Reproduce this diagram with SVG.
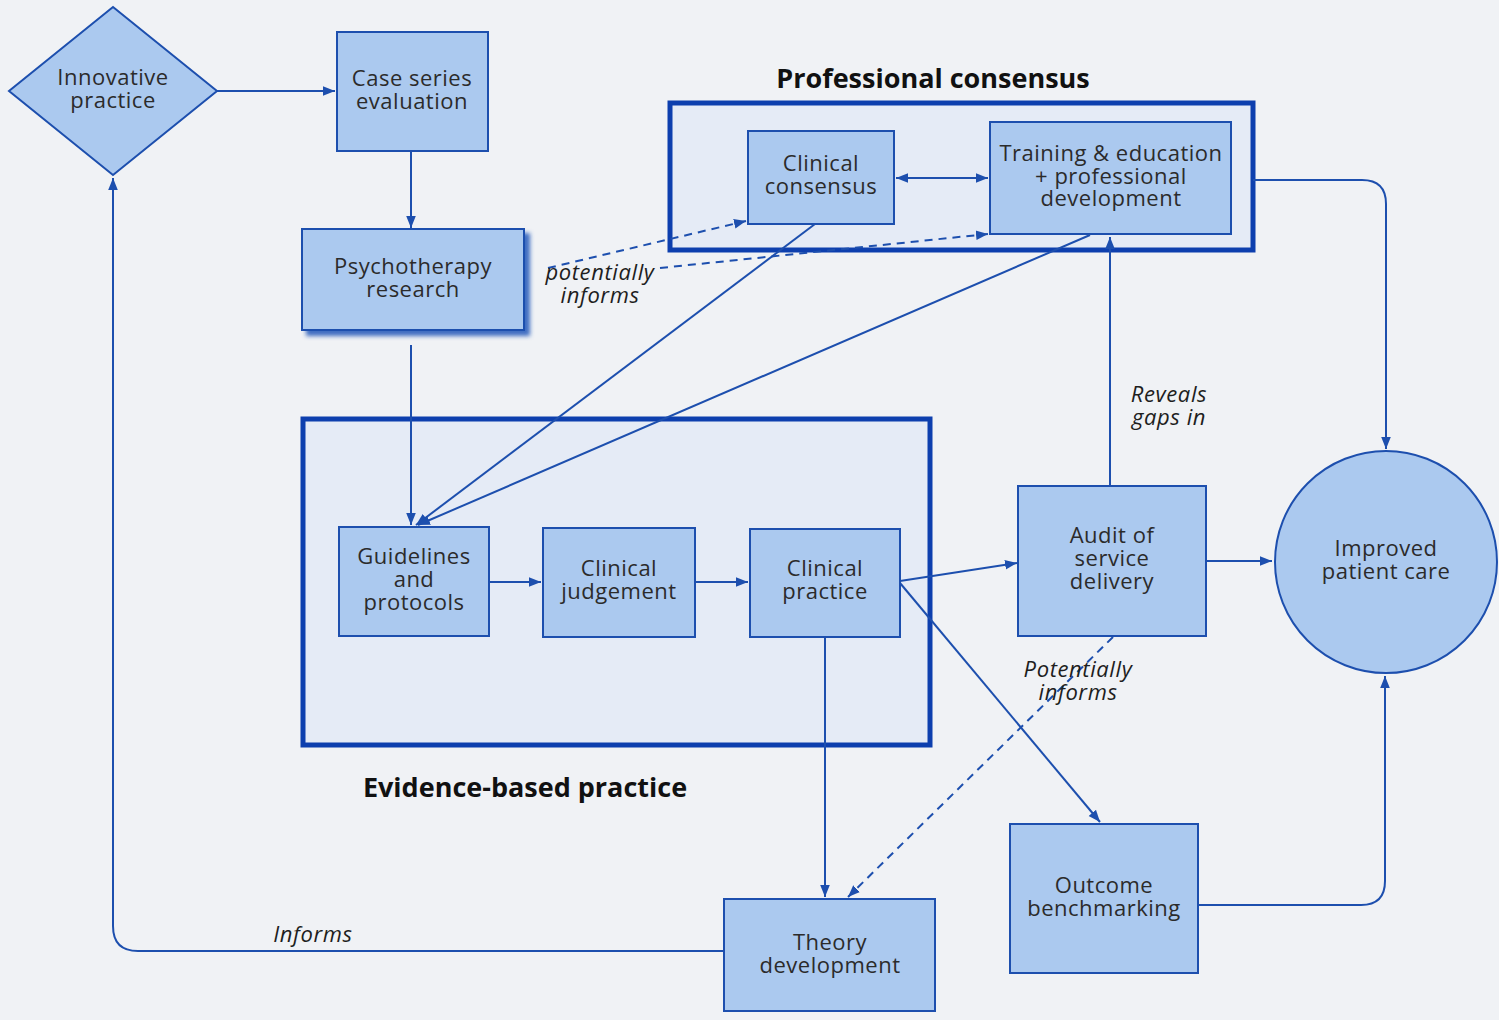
<svg xmlns="http://www.w3.org/2000/svg" width="1499" height="1020" viewBox="0 0 1499 1020">
<defs>
<style>
.node{fill:#abc9ef;stroke:#1d4fae;stroke-width:2}
.frame{fill:#e5ebf6;stroke:#0d3fae;stroke-width:5}
.lbl{font-family:"Open Sans","Noto Sans",sans-serif;font-size:22px;letter-spacing:0.5px;fill:#2b2b2b;text-anchor:middle}
.it{font-family:"Open Sans","Noto Sans",sans-serif;font-size:22px;letter-spacing:0.6px;font-style:italic;fill:#1e1e1e;text-anchor:middle}
.title{font-family:"Open Sans","Noto Sans",sans-serif;font-size:27px;font-weight:bold;fill:#111;text-anchor:middle}
.c{fill:none;stroke:#1d4fae;stroke-width:2}
.d{fill:none;stroke:#1d4fae;stroke-width:2;stroke-dasharray:8 6}
</style>
<marker id="ab" viewBox="0 0 10 10" refX="10" refY="5" markerWidth="12" markerHeight="12" orient="auto-start-reverse" markerUnits="userSpaceOnUse">
<path d="M0,1 L10,5 L0,9 Z" fill="#1d4fae"/>
</marker>
<filter id="sh" x="-10%" y="-10%" width="130%" height="130%">
<feDropShadow dx="5" dy="5" stdDeviation="2" flood-color="#1f55b8" flood-opacity="0.85"/>
</filter>
</defs>
<rect width="1499" height="1020" fill="#f0f2f5"/>

<g id="professional-consensus">
<rect class="frame" x="670" y="103" width="583" height="147"/>
<text class="title" x="933" y="88">Professional consensus</text>
</g>
<g id="evidence-based-practice">
<rect class="frame" x="303" y="419" width="627" height="326"/>
<text class="title" x="525" y="797">Evidence-based practice</text>
</g>

<g id="connectors">
<line class="c" x1="217" y1="91" x2="335" y2="91" marker-end="url(#ab)"/>
<line class="c" x1="411" y1="151" x2="411" y2="228" marker-end="url(#ab)"/>
<line class="c" x1="411" y1="345" x2="411" y2="525" marker-end="url(#ab)"/>
<line class="c" x1="815" y1="224" x2="416" y2="525" marker-end="url(#ab)"/>
<line class="c" x1="1090" y1="235" x2="418" y2="525" marker-end="url(#ab)"/>
<line class="c" x1="896" y1="178" x2="988" y2="178" marker-start="url(#ab)" marker-end="url(#ab)"/>
<line class="d" x1="548" y1="268" x2="746" y2="221" marker-end="url(#ab)"/>
<line class="d" x1="660" y1="268" x2="988" y2="234" marker-end="url(#ab)"/>
<line class="c" x1="489" y1="582" x2="541" y2="582" marker-end="url(#ab)"/>
<line class="c" x1="695" y1="582" x2="748" y2="582" marker-end="url(#ab)"/>
<line class="c" x1="900" y1="581" x2="1017" y2="563" marker-end="url(#ab)"/>
<line class="c" x1="900" y1="583" x2="1100" y2="822" marker-end="url(#ab)"/>
<line class="c" x1="825" y1="637" x2="825" y2="897" marker-end="url(#ab)"/>
<line class="d" x1="1113" y1="637" x2="848" y2="897" marker-end="url(#ab)"/>
<line class="c" x1="1206" y1="561" x2="1272" y2="561" marker-end="url(#ab)"/>
<line class="c" x1="1110" y1="486" x2="1110" y2="237" marker-end="url(#ab)"/>
<path class="c" d="M1253,180 H1362 Q1386,180 1386,204 V449" marker-end="url(#ab)"/>
<path class="c" d="M1198,905 H1361 Q1385,905 1385,881 V676" marker-end="url(#ab)"/>
<path class="c" d="M724,951 H138 Q113,951 113,926 V178" marker-end="url(#ab)"/>
<text class="it" x="600" y="280">potentially</text>
<text class="it" x="600" y="303">informs</text>
<text class="it" x="1169" y="402">Reveals</text>
<text class="it" x="1169" y="425">gaps in</text>
<text class="it" x="1078" y="677">Potentially</text>
<text class="it" x="1078" y="700">informs</text>
<text class="it" x="313" y="942">Informs</text>
</g>

<g id="innovative-practice">
<polygon class="node" points="113,7 217,91 113,175 9,91"/>
<text class="lbl" x="113" y="85">Innovative</text>
<text class="lbl" x="113" y="108">practice</text>
</g>
<g id="case-series-evaluation">
<rect class="node" x="337" y="32" width="151" height="119"/>
<text class="lbl" x="412" y="86">Case series</text>
<text class="lbl" x="412" y="109">evaluation</text>
</g>
<g id="psychotherapy-research">
<rect class="node" x="302" y="229" width="222" height="101" filter="url(#sh)"/>
<text class="lbl" x="413" y="274">Psychotherapy</text>
<text class="lbl" x="413" y="297">research</text>
</g>
<g id="clinical-consensus">
<rect class="node" x="748" y="131" width="146" height="93"/>
<text class="lbl" x="821" y="171">Clinical</text>
<text class="lbl" x="821" y="194">consensus</text>
</g>
<g id="training-education">
<rect class="node" x="990" y="122" width="241" height="112"/>
<text class="lbl" x="1111" y="161">Training &amp; education</text>
<text class="lbl" x="1111" y="184">+ professional</text>
<text class="lbl" x="1111" y="206">development</text>
</g>
<g id="guidelines-protocols">
<rect class="node" x="339" y="527" width="150" height="109"/>
<text class="lbl" x="414" y="564">Guidelines</text>
<text class="lbl" x="414" y="587">and</text>
<text class="lbl" x="414" y="610">protocols</text>
</g>
<g id="clinical-judgement">
<rect class="node" x="543" y="528" width="152" height="109"/>
<text class="lbl" x="619" y="576">Clinical</text>
<text class="lbl" x="619" y="599">judgement</text>
</g>
<g id="clinical-practice">
<rect class="node" x="750" y="529" width="150" height="108"/>
<text class="lbl" x="825" y="576">Clinical</text>
<text class="lbl" x="825" y="599">practice</text>
</g>
<g id="audit-service-delivery">
<rect class="node" x="1018" y="486" width="188" height="150"/>
<text class="lbl" x="1112" y="543">Audit of</text>
<text class="lbl" x="1112" y="566">service</text>
<text class="lbl" x="1112" y="589">delivery</text>
</g>
<g id="improved-patient-care">
<circle class="node" cx="1386" cy="562" r="111"/>
<text class="lbl" x="1386" y="556">Improved</text>
<text class="lbl" x="1386" y="579">patient care</text>
</g>
<g id="outcome-benchmarking">
<rect class="node" x="1010" y="824" width="188" height="149"/>
<text class="lbl" x="1104" y="893">Outcome</text>
<text class="lbl" x="1104" y="916">benchmarking</text>
</g>
<g id="theory-development">
<rect class="node" x="724" y="899" width="211" height="112"/>
<text class="lbl" x="830" y="950">Theory</text>
<text class="lbl" x="830" y="973">development</text>
</g>
</svg>
